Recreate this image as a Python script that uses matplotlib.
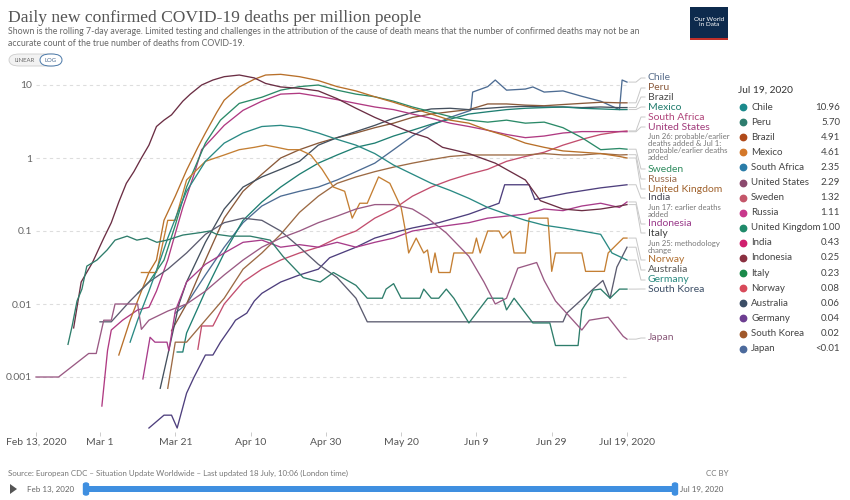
import matplotlib
matplotlib.use("Agg")
import matplotlib.pyplot as plt
from matplotlib.lines import Line2D
from matplotlib.patches import FancyBboxPatch, Rectangle, Polygon

plt.rcParams['font.family'] = ['Lato', 'DejaVu Sans']

# ---------------- data (day 0 = Feb 13, 2020; deaths per million, 7-day avg) -------------
x_tick_days = [0, 17, 37, 57, 77, 97, 117, 137, 157]
x_tick_labels = ["Feb 13, 2020", "Mar 1", "Mar 21", "Apr 10", "Apr 30", "May 20", "Jun 9", "Jun 29", "Jul 19, 2020"]
y_ticks = [0.001, 0.01, 0.1, 1, 10]
y_tick_labels = ["0.001", "0.01", "0.1", "1", "10"]

chile_d = [37, 40, 45, 50, 55, 60, 65, 70, 75, 80, 85, 90, 95, 100, 105, 110, 115.5, 116, 120, 122, 125, 130, 132, 135, 140, 145, 150, 155, 155.7, 157]
chile_v = [0.0075, 0.01, 0.025, 0.06, 0.13, 0.22, 0.3, 0.35, 0.4, 0.5, 0.65, 0.85, 1.3, 2.0, 2.8, 3.6, 4.5, 8.0, 9.5, 11.7, 8.5, 8.8, 9.4, 8.0, 8.3, 7.0, 6.0, 4.6, 11.7, 10.96]

peru_d = [36, 40, 45, 50, 55, 60, 65, 70, 75, 80, 85, 90, 95, 100, 105, 110, 115, 120, 125, 130, 135, 140, 145, 150, 155, 157]
peru_v = [0.0043, 0.01, 0.04, 0.15, 0.35, 0.6, 1.0, 1.3, 1.6, 1.9, 2.2, 2.6, 3.0, 3.6, 4.0, 4.3, 4.6, 5.5, 5.5, 5.3, 5.2, 5.4, 5.6, 5.8, 5.7, 5.7]

brazil_d = [33, 35, 38, 40, 45, 50, 55, 60, 65, 70, 75, 80, 85, 90, 95, 100, 105, 110, 115, 120, 125, 130, 135, 140, 145, 150, 155, 157]
brazil_v = [0.0007, 0.002, 0.01, 0.02, 0.07, 0.2, 0.4, 0.55, 0.7, 0.9, 1.5, 1.9, 2.3, 2.8, 3.5, 4.2, 4.7, 4.8, 4.6, 4.8, 5.0, 5.1, 5.0, 5.0, 4.9, 5.0, 4.9, 4.91]

mexico_d = [37.5, 39, 40, 45, 50, 55, 60, 65, 70, 75, 80, 85, 90, 95, 100, 105, 110, 115, 120, 125, 130, 135, 140, 145, 150, 155, 157]
mexico_v = [0.0022, 0.0022, 0.004, 0.015, 0.05, 0.14, 0.25, 0.4, 0.6, 0.85, 1.1, 1.4, 1.6, 2.0, 2.4, 2.9, 3.4, 4.0, 4.3, 4.6, 4.8, 4.9, 5.0, 4.8, 4.7, 4.6, 4.61]

safrica_d = [43, 44, 47, 50, 55, 60, 65, 70, 75, 80, 85, 90, 95, 100, 105, 110, 115, 120, 125, 130, 135, 140, 145, 150, 155, 157]
safrica_v = [0.0024, 0.005, 0.005, 0.01, 0.02, 0.03, 0.04, 0.05, 0.06, 0.08, 0.1, 0.15, 0.2, 0.3, 0.4, 0.5, 0.6, 0.7, 0.9, 1.05, 1.2, 1.5, 1.8, 2.1, 2.3, 2.35]

us_d = [17.5, 19, 20, 23, 27, 30, 32, 35, 36.5, 39, 42, 44, 47, 50, 55, 60, 65, 70, 75, 80, 85, 90, 95, 100, 105, 110, 115, 120, 125, 130, 135, 140, 145, 150, 155, 157]
us_v = [0.0004, 0.0023, 0.0044, 0.006, 0.0083, 0.009, 0.015, 0.04, 0.075, 0.21, 0.6, 1.3, 1.9, 2.8, 4.5, 6.0, 7.5, 7.7, 7.0, 6.3, 5.6, 5.0, 4.6, 4.0, 3.5, 3.0, 2.7, 2.4, 2.1, 1.9, 2.0, 2.2, 2.3, 2.3, 2.3, 2.29]

sweden_d = [27, 30, 34, 37, 40, 45, 49, 54, 60, 65, 70, 75, 80, 85, 90, 95, 100, 105, 110, 115, 120, 125, 130, 135, 140, 145, 150, 155, 157]
sweden_v = [0.014, 0.02, 0.04, 0.12, 0.4, 1.6, 3.3, 5.6, 6.8, 8.5, 9.5, 10.0, 8.5, 7.5, 6.9, 6.0, 5.0, 4.3, 3.7, 3.3, 3.1, 3.3, 3.0, 3.1, 2.6, 1.9, 1.3, 1.35, 1.32]

russia_d = [35, 37, 40, 45, 50, 55, 60, 65, 70, 75, 80, 85, 90, 95, 100, 105, 110, 115, 120, 125, 130, 135, 140, 145, 150, 155, 157]
russia_v = [0.0007, 0.003, 0.003, 0.006, 0.012, 0.03, 0.05, 0.09, 0.18, 0.3, 0.45, 0.55, 0.65, 0.75, 0.85, 0.95, 1.05, 1.1, 1.1, 1.1, 1.1, 1.15, 1.1, 1.1, 1.15, 1.1, 1.11]

uk_d = [22, 25, 28, 30, 32, 34, 37, 40, 43, 45, 48, 50, 54, 58, 61, 65, 70, 75, 80, 85, 90, 95, 100, 105, 110, 115, 120, 125, 130, 135, 140, 145, 150, 155, 157]
uk_v = [0.002, 0.006, 0.015, 0.027, 0.04, 0.14, 0.3, 0.68, 1.4, 2.2, 4.2, 6.2, 9.4, 12.0, 13.7, 14.0, 13.0, 11.5, 9.5, 8.3, 6.9, 5.8, 4.8, 4.0, 3.3, 3.0, 2.4, 2.0, 1.6, 1.4, 1.25, 1.2, 1.15, 1.05, 1.0]

india_d = [30, 34, 36, 37.5, 40, 42, 45, 47, 49, 52, 53, 56, 58, 60, 65, 70, 75, 78, 85, 90, 95, 100, 107, 115, 123, 124.5, 131, 132.5, 141, 150, 157]
india_v = [0.0002, 0.0003, 0.0003, 0.0002, 0.0006, 0.001, 0.002, 0.002, 0.003, 0.005, 0.006, 0.0075, 0.011, 0.014, 0.02, 0.025, 0.03, 0.043, 0.06, 0.08, 0.095, 0.11, 0.13, 0.17, 0.24, 0.43, 0.43, 0.27, 0.33, 0.39, 0.43]

indonesia_d = [28.4, 30.3, 31.6, 33, 34.8, 35.3, 37, 40, 45, 50, 55, 60, 65, 70, 75, 80, 85, 90, 95, 100, 105, 110, 115, 120, 125, 130, 135, 140, 145, 150, 155, 157]
indonesia_v = [0.00094, 0.0035, 0.003, 0.003, 0.003, 0.0023, 0.008, 0.02, 0.035, 0.05, 0.07, 0.075, 0.06, 0.065, 0.06, 0.07, 0.06, 0.07, 0.08, 0.1, 0.11, 0.12, 0.13, 0.15, 0.16, 0.17, 0.2, 0.19, 0.22, 0.24, 0.21, 0.25]

italy_d = [10, 12, 15, 18, 20, 22, 24, 26, 28, 30, 32, 34, 36, 39, 41, 44, 47, 50, 54, 58, 61, 65, 70, 75, 80, 85, 90, 95, 100, 104, 108, 115, 122, 130, 134, 140, 145, 150, 155, 157]
italy_v = [0.0047, 0.02, 0.037, 0.08, 0.13, 0.25, 0.45, 0.65, 1.0, 1.5, 2.7, 3.3, 3.9, 6.0, 7.5, 10.0, 11.7, 13.0, 13.7, 12.5, 10.5, 9.4, 9.0, 8.3, 6.5, 4.8, 3.6, 2.8, 2.2, 1.9, 1.4, 1.15, 0.85, 0.5, 0.26, 0.2, 0.19, 0.2, 0.22, 0.23]

norway_d = [28, 32, 35, 37, 40, 45, 50, 54, 58, 61, 64, 67, 70, 73, 76, 79, 82, 84, 86, 88, 91, 94, 97, 98, 99, 101, 103, 104, 105, 106, 107, 110, 111, 116, 117, 118, 120, 123, 124, 126, 127, 130, 131, 136, 137, 138, 145, 146, 151, 152, 156, 157]
norway_v = [0.027, 0.027, 0.14, 0.14, 0.5, 0.9, 1.1, 1.3, 1.4, 1.5, 1.4, 1.3, 1.3, 1.1, 0.7, 0.4, 0.35, 0.15, 0.24, 0.24, 0.55, 0.45, 0.21, 0.11, 0.05, 0.08, 0.05, 0.055, 0.027, 0.05, 0.027, 0.027, 0.05, 0.05, 0.08, 0.05, 0.1, 0.1, 0.08, 0.1, 0.05, 0.05, 0.15, 0.15, 0.028, 0.05, 0.05, 0.028, 0.028, 0.05, 0.08, 0.08]

australia_d = [17, 20, 25, 30, 35, 40, 45, 50, 55, 60, 65, 70, 75, 80, 85, 88, 95, 105, 115, 125, 135, 140, 141, 148, 150.6, 152.5, 154.3, 157]
australia_v = [0.0057, 0.0057, 0.011, 0.02, 0.03, 0.05, 0.09, 0.13, 0.15, 0.14, 0.1, 0.06, 0.035, 0.023, 0.012, 0.0057, 0.0057, 0.0057, 0.0057, 0.0057, 0.0057, 0.0057, 0.0075, 0.016, 0.021, 0.012, 0.032, 0.06]

germany_d = [25, 27, 30, 33, 35, 38, 40, 45, 50, 55, 60, 65, 70, 75, 80, 85, 90, 95, 100, 105, 110, 115, 120, 125, 130, 135, 140, 145, 150, 153, 157]
germany_v = [0.003, 0.006, 0.015, 0.04, 0.08, 0.2, 0.35, 0.9, 1.6, 2.2, 2.7, 2.8, 2.6, 2.2, 1.8, 1.5, 1.15, 0.8, 0.6, 0.45, 0.36, 0.28, 0.21, 0.17, 0.14, 0.12, 0.11, 0.1, 0.09, 0.05, 0.04]

skorea_d = [8.5, 9.6, 10.9, 12.2, 13.5, 16.2, 18.9, 21, 24.2, 26.8, 29.5, 32.1, 34.8, 39, 43.6, 46.2, 48, 51.5, 56.9, 62.2, 65.6, 71, 75.5, 79, 85, 88, 92, 93, 95, 97, 102, 103, 105, 107, 109, 111, 115, 120, 124, 125, 127, 132, 136.5, 138, 144, 145, 147, 148, 150, 152.5, 155, 157]
skorea_v = [0.0028, 0.005, 0.011, 0.016, 0.033, 0.04, 0.055, 0.075, 0.085, 0.075, 0.08, 0.07, 0.075, 0.088, 0.095, 0.1, 0.09, 0.085, 0.085, 0.075, 0.045, 0.023, 0.02, 0.027, 0.018, 0.012, 0.012, 0.016, 0.019, 0.012, 0.012, 0.016, 0.012, 0.012, 0.016, 0.012, 0.0055, 0.012, 0.012, 0.0083, 0.012, 0.0055, 0.0055, 0.0027, 0.0027, 0.0083, 0.012, 0.0155, 0.016, 0.012, 0.016, 0.016]

japan_d = [0, 6, 14, 16, 18, 20, 21, 27, 28, 30, 35, 40, 45, 50, 55, 60, 65, 70, 75, 80, 85, 90, 95, 100, 104, 109, 115, 119, 122, 125, 128, 133, 135, 138, 145, 147, 152, 156, 157]
japan_v = [0.001, 0.001, 0.0021, 0.0021, 0.006, 0.006, 0.01, 0.01, 0.0045, 0.006, 0.008, 0.01, 0.015, 0.025, 0.04, 0.06, 0.08, 0.1, 0.13, 0.16, 0.2, 0.23, 0.23, 0.2, 0.15, 0.094, 0.045, 0.02, 0.01, 0.012, 0.031, 0.037, 0.021, 0.011, 0.0044, 0.006, 0.0066, 0.0036, 0.0033]

legend_names = ["Chile", "Peru", "Brazil", "Mexico", "South Africa", "United States", "Sweden", "Russia",
                "United Kingdom", "India", "Indonesia", "Italy", "Norway", "Australia", "Germany", "South Korea", "Japan"]
legend_values = ["10.96", "5.70", "4.91", "4.61", "2.35", "2.29", "1.32", "1.11", "1.00", "0.43", "0.25",
                 "0.23", "0.08", "0.06", "0.04", "0.02", "<0.01"]
legend_colors = ["#1b8a8c", "#2e7d6e", "#b04a1a", "#d4782a", "#2a7ca8", "#8c4a6e", "#c4566a", "#c8388c",
                 "#1f8a6a", "#d0206e", "#8a3040", "#1a8a4a", "#d84a5a", "#3c4e66", "#6d3e91", "#a0582a", "#4c6a9c"]

# ---------------- layout helpers -------------
W, H = 850, 500
fig = plt.figure(figsize=(8.5, 5), dpi=100)
fig.patch.set_facecolor("white")

def fx(x):
    return x / W

def fy(y):
    return 1 - y / H

def ftext(x, y, s, **kw):
    kw.setdefault("va", "center")
    return fig.text(fx(x), fy(y), s, **kw)

X0, X1 = 36, 627
Y_TOP, Y_BOT = 70, 432
ax = fig.add_axes([fx(X0), fy(Y_BOT), (X1 - X0) / W, (Y_BOT - Y_TOP) / H])
ax.set_yscale("log")
ax.set_xlim(0, 157)
ax.set_ylim(10 ** ((158 - Y_BOT) / 73), 10 ** ((158 - Y_TOP) / 73))
for s in ax.spines.values():
    s.set_visible(False)
ax.set_facecolor("none")

ax.set_yticks(y_ticks)
ax.set_yticklabels(y_tick_labels)
ax.yaxis.set_minor_locator(matplotlib.ticker.NullLocator())
ax.tick_params(axis="y", length=0, pad=3, labelsize=7.5, labelcolor="#666666")
for v in y_ticks:
    ax.axhline(v, color="#dddddd", lw=0.8, ls=(0, (3, 3)), zorder=0)

ax.set_xticks(x_tick_days)
ax.set_xticklabels(x_tick_labels)
ax.tick_params(axis="x", length=3, width=0.7, color="#cccccc", pad=1, labelsize=7.5, labelcolor="#555555")

series = [
    ("Chile", chile_d, chile_v, "#4d6c93", 78, "#5a6f8c"),
    ("Peru", peru_d, peru_v, "#8a5a3a", 88, "#8a5a3c"),
    ("Brazil", brazil_d, brazil_v, "#44505e", 97, "#4a4a4a"),
    ("Mexico", mexico_d, mexico_v, "#1f7f72", 107, "#1f7a6c"),
    ("South Africa", safrica_d, safrica_v, "#c24e6e", 117, "#b0457a"),
    ("United States", us_d, us_v, "#b03a82", 127, "#a03a7a"),
    ("Sweden", sweden_d, sweden_v, "#2b8a68", 169, "#2e8b5e"),
    ("Russia", russia_d, russia_v, "#9c6a44", 179, "#9a6a4a"),
    ("United Kingdom", uk_d, uk_v, "#b8702a", 189, "#a0622d"),
    ("India", india_d, india_v, "#4e3f7d", 198, "#444450"),
    ("Indonesia", indonesia_d, indonesia_v, "#a83c8a", 224, "#9a3a8a"),
    ("Italy", italy_d, italy_v, "#6b2e44", 233, "#3d3d3d"),
    ("Norway", norway_d, norway_v, "#c47f33", 260, "#b06f30"),
    ("Australia", australia_d, australia_v, "#5c5c70", 270, "#555555"),
    ("Germany", germany_d, germany_v, "#2a8a84", 280, "#2a8a80"),
    ("South Korea", skorea_d, skorea_v, "#2e7d6b", 289, "#3c4e66"),
    ("Japan", japan_d, japan_v, "#9a5a84", 338, "#8a5a7a"),
]

for name, d, v, col, ly, lcol in series:
    ax.plot(d, v, color=col, lw=0.95, solid_joinstyle="round", clip_on=False, zorder=2)

# end labels with leader lines
for name, d, v, col, ly, lcol in series:
    _, ey_disp = ax.transData.transform((d[-1], v[-1]))
    ey = H - ey_disp
    xs = [629, 636, 641, 645]
    ys = [ey, ey, ly, ly]
    fig.add_artist(Line2D([fx(x) for x in xs], [fy(y) for y in ys], color="#c8c8c8", lw=0.7))
    ftext(648, ly, name, fontsize=7.5, color=lcol, ha="left")

note_kw = dict(fontsize=5.6, color="#777777", ha="left", linespacing=1.05)
ftext(648, 147, "Jun 26: probable/earlier\ndeaths added & Jul 1:\nprobable/earlier deaths\nadded", **note_kw)
ftext(648, 211, "Jun 17: earlier deaths\nadded", **note_kw)
ftext(648, 247, "Jun 25: methodology\nchange", **note_kw)

# ---------------- header -------------
ftext(8, 18, "Daily new confirmed COVID-19 deaths per million people", fontsize=12.6,
      family=["Liberation Serif", "DejaVu Serif"], color="#555555", ha="left")
ftext(8, 32, "Shown is the rolling 7-day average. Limited testing and challenges in the attribution of the cause of death "
      "means that the number of confirmed deaths may not be an", fontsize=6.3, color="#666666", ha="left")
ftext(8, 44, "accurate count of the true number of deaths from COVID-19.", fontsize=6.3, color="#666666", ha="left")

# LINEAR / LOG toggle
fig.add_artist(FancyBboxPatch((fx(9), fy(66)), fx(52), 12 / H, boxstyle="round,pad=0,rounding_size=0.012",
                              fc="#f2f2f2", ec="#cccccc", lw=0.6, transform=fig.transFigure))
fig.add_artist(FancyBboxPatch((fx(40), fy(66)), fx(22), 12 / H, boxstyle="round,pad=0,rounding_size=0.012",
                              fc="white", ec="#4a78a8", lw=0.7, transform=fig.transFigure))
ftext(24.5, 60, "LINEAR", fontsize=4.3, color="#666666", ha="center")
ftext(51, 60, "LOG", fontsize=4.3, color="#4a6a90", ha="center")

# logo
fig.add_artist(Rectangle((fx(690), fy(38)), fx(38), 31 / H, fc="#0d2a4d", ec="none", transform=fig.transFigure))
fig.add_artist(Rectangle((fx(690), fy(40)), fx(38), 2.5 / H, fc="#c0302a", ec="none", transform=fig.transFigure))
ftext(709, 22, "Our World\nin Data", fontsize=4.6, color="white", ha="center", linespacing=1.0)

# ---------------- legend panel -------------
ftext(738, 90, "Jul 19, 2020", fontsize=7.3, color="#333333", ha="left")
for i, (nm, val, col) in enumerate(zip(legend_names, legend_values, legend_colors)):
    yy = 107 + i * 15.1
    fig.add_artist(Line2D([fx(743)], [fy(yy)], marker="o", markersize=4.6, color=col, lw=0))
    ftext(751, yy, nm, fontsize=7.0, color="#444444", ha="left")
    ftext(840, yy, val, fontsize=7.0, color="#444444", ha="right")

# ---------------- footer -------------
ftext(8, 473, "Source: European CDC – Situation Update Worldwide – Last updated 18 July, 10:06 (London time)",
      fontsize=5.7, color="#777777", ha="left")
ftext(729, 473, "CC BY", fontsize=5.7, color="#777777", ha="right")

fig.add_artist(Polygon([[fx(10), fy(484)], [fx(10), fy(494)], [fx(17), fy(489)]], closed=True,
                       fc="#555555", ec="none", transform=fig.transFigure))
ftext(27, 489, "Feb 13, 2020", fontsize=5.8, color="#666666", ha="left")
fig.add_artist(FancyBboxPatch((fx(86), fy(492)), fx(589), 6 / H, boxstyle="round,pad=0,rounding_size=0.003",
                              fc="#3f8fe0", ec="none", transform=fig.transFigure))
for hx in (86, 675):
    fig.add_artist(FancyBboxPatch((fx(hx - 2.5), fy(495)), fx(5), 12 / H, boxstyle="round,pad=0,rounding_size=0.003",
                                  fc="#3f8fe0", ec="#3f8fe0", transform=fig.transFigure))
ftext(680, 489, "Jul 19, 2020", fontsize=5.8, color="#666666", ha="left")

fig.savefig("out.png", dpi=100, facecolor="white")
